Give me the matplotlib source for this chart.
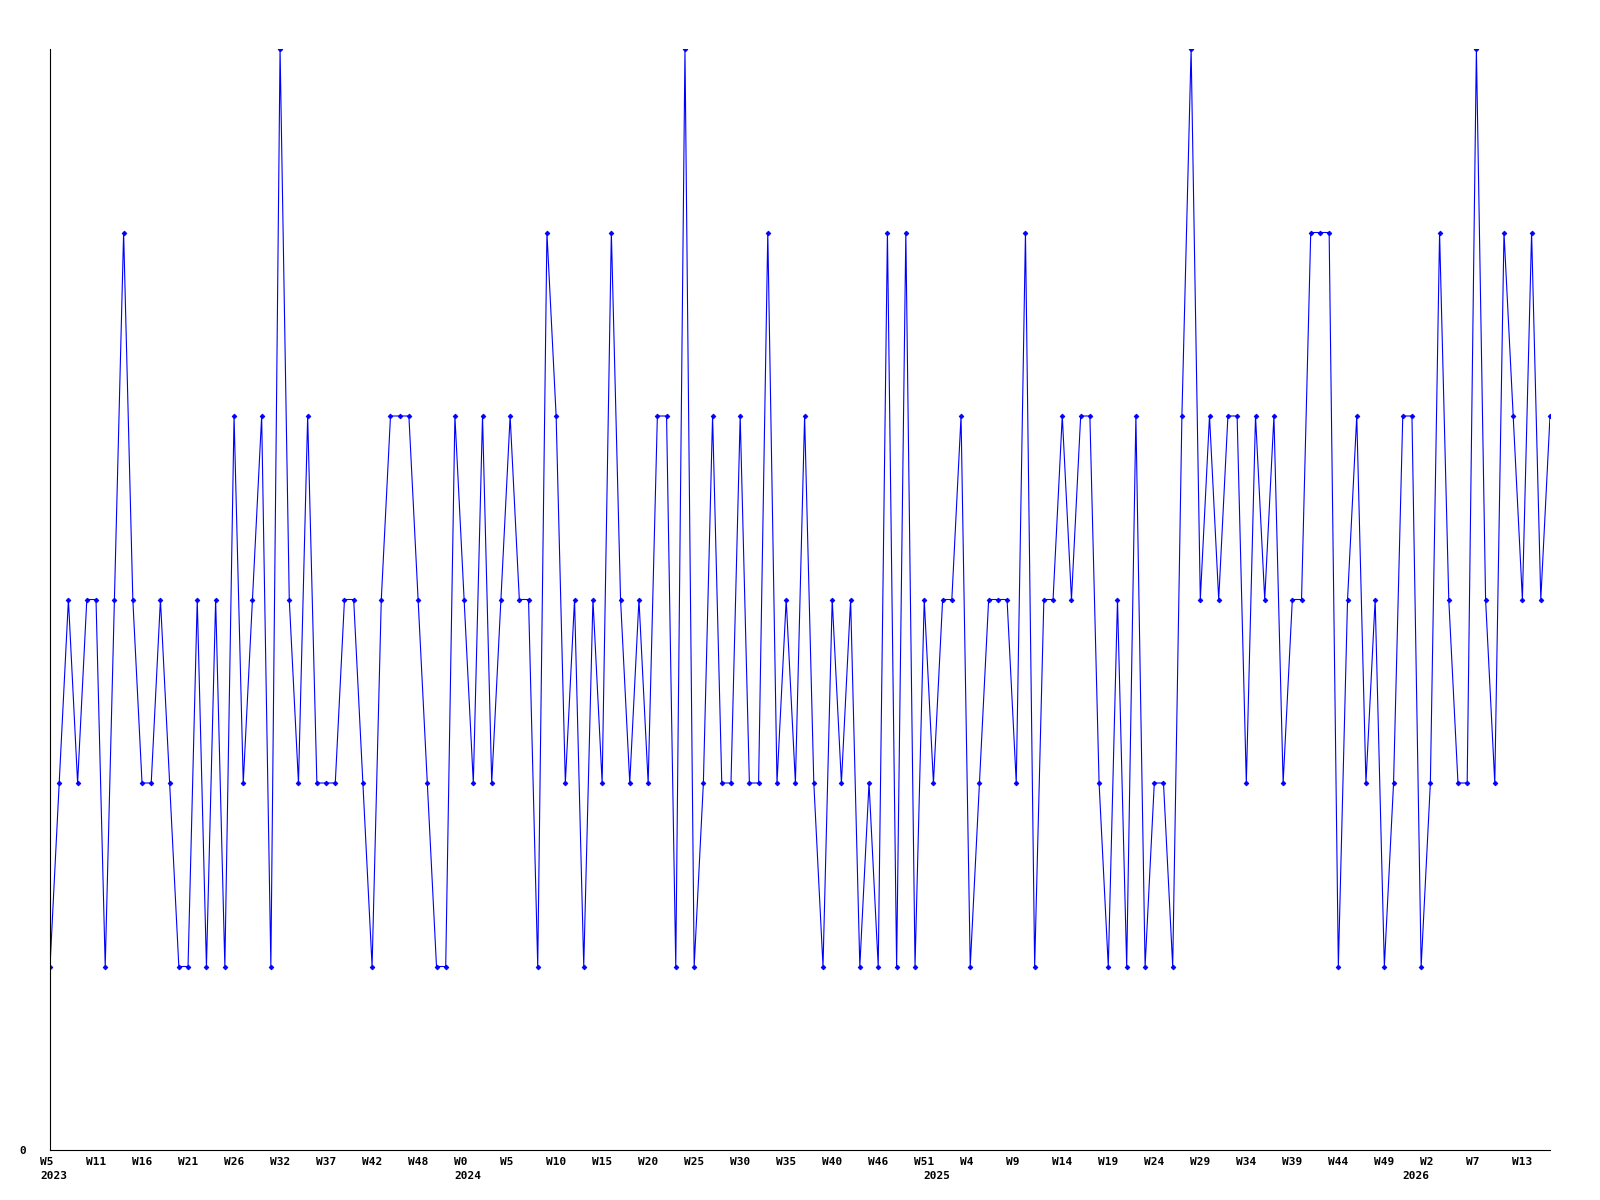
import matplotlib
matplotlib.use('Agg')
import matplotlib.pyplot as plt
import matplotlib.transforms as mtransforms

# valores semanales (nivel por punto, de izquierda a derecha)
valores = [
    1, 2, 3, 2, 3, 3, 1, 3, 5, 3, 2, 2, 3, 2, 1, 1, 3, 1, 3, 1,
    4, 2, 3, 4, 1, 6, 3, 2, 4, 2, 2, 2, 3, 3, 2, 1, 3, 4, 4, 4,
    3, 2, 1, 1, 4, 3, 2, 4, 2, 3, 4, 3, 3, 1, 5, 4, 2, 3, 1, 3,
    2, 5, 3, 2, 3, 2, 4, 4, 1, 6, 1, 2, 4, 2, 2, 4, 2, 2, 5, 2, 3,
    2, 4, 2, 1, 3, 2, 3, 1, 2, 1, 5, 1, 5, 1, 3, 2, 3, 3, 4, 1,
    2, 3, 3, 3, 2, 5, 1, 3, 3, 4, 3, 4, 4, 2, 1, 3, 1, 4, 1, 2,
    2, 1, 4, 6, 3, 4, 3, 4, 4, 2, 4, 3, 4, 2, 3, 3, 5, 5, 5, 1,
    3, 4, 2, 3, 1, 2, 4, 4, 1, 2, 5, 3, 2, 2, 6, 3, 2, 5, 4, 3, 5, 3, 4,
]

etiquetas_semana = [
    'W5', 'W11', 'W16', 'W21', 'W26', 'W32', 'W37', 'W42', 'W48',
    'W0', 'W5', 'W10', 'W15', 'W20', 'W25', 'W30', 'W35', 'W40', 'W46',
    'W51', 'W4', 'W9', 'W14', 'W19', 'W24', 'W29', 'W34', 'W39', 'W44',
    'W49', 'W2', 'W7', 'W13',
]
anios = ['2023', '2024', '2025', '2026']
pos_anios = [0, 45, 96, 148]

FUENTE = dict(family='DejaVu Sans Mono', weight='bold', size=8)


def main():
    x = list(range(len(valores)))
    ticks = list(range(0, len(valores), 5))

    fig = plt.figure(figsize=(16, 12), dpi=100)
    ax = fig.add_axes([50 / 1600, 1 - 1150 / 1200, 1500 / 1600, 1101 / 1200])

    ax.plot(x, valores, color='#0000ff', linewidth=0.8,
            marker='D', markersize=2.4, markeredgewidth=0.6)

    ax.set_xlim(0, len(valores) - 1)
    ax.set_ylim(0, 6)

    for lado in ('top', 'right'):
        ax.spines[lado].set_visible(False)
    for lado in ('left', 'bottom'):
        ax.spines[lado].set_linewidth(0.8)
        ax.spines[lado].set_color('black')

    # ticks sin marca; las etiquetas van como texto alineado a la izquierda
    ax.set_xticks(ticks, [''] * len(ticks))
    ax.tick_params(axis='x', length=0)

    ax.set_yticks([0], ['0'], **FUENTE)
    ax.tick_params(axis='y', length=0, pad=17)

    base = mtransforms.blended_transform_factory(ax.transData, ax.transAxes)
    trans_semana = base + mtransforms.ScaledTranslation(-10 / 100, -7 / 100, fig.dpi_scale_trans)
    trans_anio = base + mtransforms.ScaledTranslation(-10 / 100, -21 / 100, fig.dpi_scale_trans)

    for pos, etiqueta in zip(ticks, etiquetas_semana):
        ax.text(pos, 0, etiqueta, transform=trans_semana, ha='left', va='top',
                clip_on=False, **FUENTE)
    for pos, anio in zip(pos_anios, anios):
        ax.text(pos, 0, anio, transform=trans_anio, ha='left', va='top',
                clip_on=False, **FUENTE)

    fig.savefig('out.png', dpi=100)


if __name__ == '__main__':
    main()
